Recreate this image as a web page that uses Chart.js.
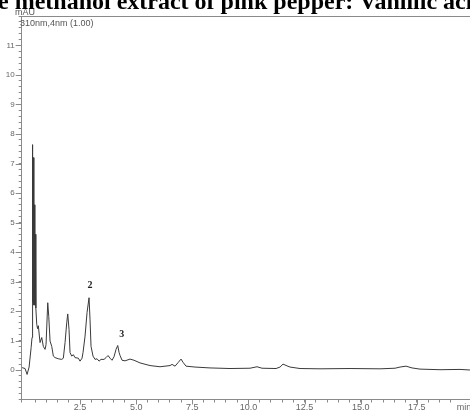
<!DOCTYPE html>
<html>
<head>
<meta charset="utf-8">
<script src="https://cdn.jsdelivr.net/npm/chart.js@4/dist/chart.umd.min.js"></script>
<style>
  html, body { margin: 0; padding: 0; background: #fff; overflow: hidden; }
  canvas { display: block; }
</style>
</head>
<body>
<canvas id="chromChart" width="470" height="410"></canvas>
<script>
// retention time, min
const retentionTime = [
  -0.08, 0.05, 0.14, 0.23, 0.32, 0.36, 0.374, 0.396, 0.419, 0.441,
  0.463, 0.486, 0.508, 0.53, 0.57, 0.606, 0.641, 0.717, 0.793, 0.864,
  0.94, 0.984, 1.06, 1.105, 1.163, 1.238, 1.31, 1.385, 1.532, 1.684,
  1.755, 1.831, 1.906, 1.951, 2.009, 2.053, 2.129, 2.2, 2.276, 2.423,
  2.499, 2.588, 2.633, 2.722, 2.811, 2.9, 2.944, 2.989, 3.078, 3.167,
  3.256, 3.345, 3.434, 3.568, 3.657, 3.746, 3.835, 3.924, 4.013, 4.102,
  4.178, 4.236, 4.281, 4.37, 4.503, 4.726, 4.904, 5.171, 5.617, 6.062,
  6.508, 6.597, 6.731, 6.864, 6.998, 7.087, 7.22, 7.621, 8.289, 9.18,
  10.071, 10.383, 10.606, 11.229, 11.408, 11.541, 11.719, 11.853, 12.299, 13.189,
  14.526, 15.862, 16.53, 16.753, 17.02, 17.287, 17.643, 18.534, 19.425, 19.87,
];

// signal, mAU
const absorbance = [
  0.08, 0.05, -0.15, 0.1, 0.76, 1.1, 7.64, 2.3, 7.2, 2.2,
  5.6, 2.2, 4.6, 2.1, 1.55, 1.4, 1.5, 0.93, 1.1, 0.8,
  0.7, 0.86, 2.28, 1.82, 0.98, 0.8, 0.47, 0.42, 0.38, 0.36,
  0.4, 0.93, 1.6, 1.9, 1.37, 0.59, 0.47, 0.52, 0.42, 0.4,
  0.3, 0.4, 0.6, 1.15, 1.95, 2.45, 1.7, 0.8, 0.47, 0.36,
  0.38, 0.3, 0.36, 0.36, 0.42, 0.49, 0.4, 0.33, 0.45, 0.7,
  0.83, 0.6, 0.49, 0.33, 0.31, 0.37, 0.33, 0.24, 0.15, 0.11,
  0.15, 0.19, 0.13, 0.25, 0.37, 0.26, 0.13, 0.1, 0.07, 0.05,
  0.06, 0.11, 0.06, 0.05, 0.1, 0.2, 0.14, 0.1, 0.05, 0.04,
  0.05, 0.04, 0.06, 0.1, 0.13, 0.07, 0.03, 0.01, 0.02, 0.0,
];

// peak numbers and where their labels sit
const peakNames = ['2', '3'];
const peakLabelTime = [2.94, 4.36];
const peakLabelValue = [2.87, 1.2];

const xLabelValues = [2.5, 5, 7.5, 10, 12.5, 15, 17.5];
const xUnitLabel = 'min';
const xUnitAt = 19.6;
const yLabelValues = [0, 1, 2, 3, 4, 5, 6, 7, 8, 9, 10, 11];

const titleText = 'e methanol extract of pink pepper: Vanillic aci';
const unitText = 'mAU';
const channelText = '310nm,4nm (1.00)';

document.addEventListener('DOMContentLoaded', function () {
  const axisColor = '#8a8a8a';
  const near = (a, b) => Math.abs(a - b) < 1e-6;

  // подписи, рамка сверху и длинные основные деления
  const extrasPlugin = {
    id: 'chromExtras',
    afterDraw(chart) {
      const { ctx, chartArea } = chart;
      const xs = chart.scales.x;
      const ys = chart.scales.y;

      ctx.save();
      ctx.strokeStyle = axisColor;
      ctx.lineWidth = 1;
      ctx.beginPath();
      ctx.moveTo(chartArea.left, chartArea.top + 0.5);
      ctx.lineTo(chartArea.right, chartArea.top + 0.5);
      xLabelValues.forEach((v) => {
        const px = Math.round(xs.getPixelForValue(v)) + 0.5;
        ctx.moveTo(px, chartArea.bottom);
        ctx.lineTo(px, chartArea.bottom + 5);
      });
      yLabelValues.forEach((v) => {
        const py = Math.round(ys.getPixelForValue(v)) + 0.5;
        ctx.moveTo(chartArea.left, py);
        ctx.lineTo(chartArea.left - 6, py);
      });
      ctx.stroke();

      ctx.fillStyle = '#000';
      ctx.font = 'bold 24px "Liberation Serif"';
      ctx.textAlign = 'left';
      ctx.textBaseline = 'alphabetic';
      ctx.fillText(titleText, -2, 9);

      ctx.fillStyle = '#555';
      ctx.font = '9px "Liberation Sans"';
      ctx.fillText(unitText, 15, 15);
      ctx.fillText(channelText, 20, 26);

      // единица оси времени на месте последней подписи
      ctx.fillStyle = '#666';
      ctx.textAlign = 'center';
      ctx.textBaseline = 'middle';
      ctx.fillText(xUnitLabel, xs.getPixelForValue(xUnitAt), chartArea.bottom + 3 + 5.4);

      ctx.fillStyle = '#222';
      ctx.font = 'bold 10px "Liberation Serif"';
      peakNames.forEach((name, i) => {
        ctx.fillText(name, xs.getPixelForValue(peakLabelTime[i]), ys.getPixelForValue(peakLabelValue[i]));
      });
      ctx.restore();
    },
  };

  new Chart(document.getElementById('chromChart'), {
    type: 'line',
    data: {
      datasets: [
        {
          label: unitText,
          data: retentionTime.map((t, i) => ({ x: t, y: absorbance[i] })),
          borderColor: '#3a3a3a',
          borderWidth: 1,
          pointRadius: 0,
          tension: 0,
          fill: false,
        },
      ],
    },
    options: {
      responsive: false,
      animation: false,
      layout: { padding: { top: 16, left: 0, right: 0, bottom: 0 } },
      plugins: {
        legend: { display: false },
        tooltip: { enabled: false },
      },
      scales: {
        x: {
          type: 'linear',
          min: -0.1,
          max: 19.87,
          afterFit(scale) {
            scale.height = 10.5;
          },
          border: { color: axisColor, width: 1 },
          grid: { drawOnChartArea: false, drawTicks: true, tickLength: 3, color: axisColor },
          ticks: {
            stepSize: 0.5,
            autoSkip: false,
            maxRotation: 0,
            padding: 0,
            color: '#666',
            font: { family: 'Liberation Sans', size: 9 },
            callback: function (value) {
              return xLabelValues.some((v) => near(v, value)) ? value.toFixed(1) : '';
            },
          },
        },
        y: {
          min: -1,
          max: 12,
          afterFit(scale) {
            scale.width = 21.7;
          },
          border: { color: axisColor, width: 1 },
          grid: { drawOnChartArea: false, drawTicks: true, tickLength: 3, color: axisColor },
          ticks: {
            stepSize: 0.2,
            autoSkip: false,
            padding: 4,
            color: '#666',
            font: { family: 'Liberation Sans', size: 8 },
            callback: function (value) {
              const hit = yLabelValues.find((v) => near(v, value));
              return hit === undefined ? '' : String(hit);
            },
          },
        },
      },
    },
    plugins: [extrasPlugin],
  });
});
</script>
</body>
</html>
